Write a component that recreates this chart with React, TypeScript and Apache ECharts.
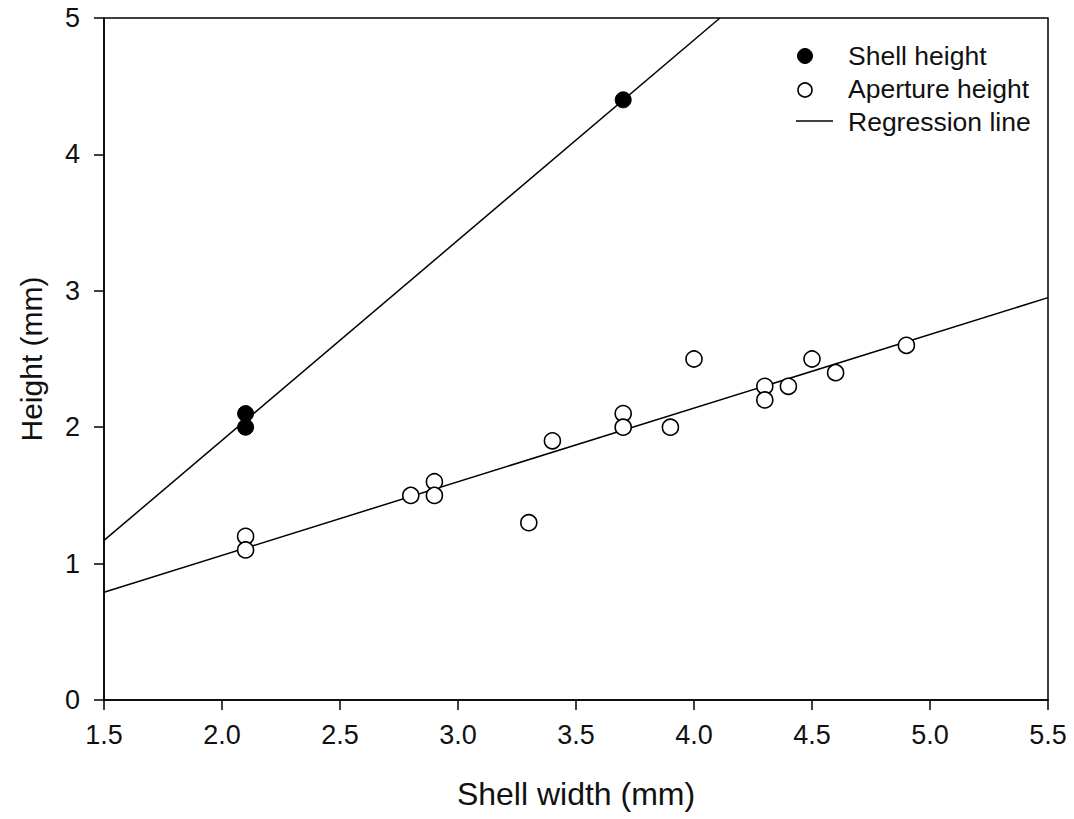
import React, { useEffect, useRef } from "react";
import * as echarts from "echarts";

const shellHeight: [number, number][] = [
  [2.1, 2.0],
  [2.1, 2.1],
  [3.7, 4.4],
];

const apertureHeight: [number, number][] = [
  [2.1, 1.2],
  [2.1, 1.1],
  [2.8, 1.5],
  [2.9, 1.6],
  [2.9, 1.5],
  [3.3, 1.3],
  [3.4, 1.9],
  [3.7, 2.1],
  [3.7, 2.0],
  [3.9, 2.0],
  [4.0, 2.5],
  [4.3, 2.3],
  [4.3, 2.2],
  [4.4, 2.3],
  [4.5, 2.5],
  [4.6, 2.4],
  [4.9, 2.6],
];

const shellRegression: [number, number][] = [
  [1.5, 1.17],
  [4.11, 5.0],
];

const apertureRegression: [number, number][] = [
  [1.5, 0.79],
  [5.5, 2.95],
];

const legendLabels = ["Shell height", "Aperture height", "Regression line"];
const xTitle = "Shell width (mm)";
const yTitle = "Height (mm)";

const FONT = "'Liberation Sans', Arial, sans-serif";

export default function App() {
  const ref = useRef<HTMLDivElement>(null);

  useEffect(() => {
    if (!ref.current) return;
    const chart = echarts.init(ref.current, undefined, { renderer: "svg" });
    chart.setOption({
      animation: false,
      backgroundColor: "#ffffff",
      grid: {
        left: 104,
        right: 26,
        top: 18,
        bottom: 119,
        show: true,
        borderColor: "#000",
        borderWidth: 1.5,
        backgroundColor: "transparent",
      },
      xAxis: {
        type: "value",
        min: 1.5,
        max: 5.5,
        interval: 0.5,
        name: xTitle,
        nameLocation: "middle",
        nameGap: 78,
        nameTextStyle: { fontFamily: FONT, fontSize: 32, color: "#111" },
        axisLine: { show: true, lineStyle: { color: "#000", width: 1.5 } },
        axisTick: { show: true, inside: false, length: 10, lineStyle: { color: "#000", width: 1.5 } },
        axisLabel: {
          margin: 21,
          fontFamily: FONT,
          fontSize: 27,
          color: "#111",
          formatter: (v: number) => v.toFixed(1),
        },
        splitLine: { show: false },
      },
      yAxis: {
        type: "value",
        min: 0,
        max: 5,
        interval: 1,
        name: yTitle,
        nameLocation: "middle",
        nameGap: 58,
        nameTextStyle: { fontFamily: FONT, fontSize: 30, color: "#111" },
        axisLine: { show: true, lineStyle: { color: "#000", width: 1.5 } },
        axisTick: { show: true, inside: false, length: 10, lineStyle: { color: "#000", width: 1.5 } },
        axisLabel: { margin: 24, fontFamily: FONT, fontSize: 27, color: "#111" },
        splitLine: { show: false },
      },
      series: [
        {
          type: "line",
          data: shellRegression,
          symbol: "none",
          lineStyle: { color: "#000", width: 1.5 },
          z: 2,
        },
        {
          type: "line",
          data: apertureRegression,
          symbol: "none",
          lineStyle: { color: "#000", width: 1.5 },
          z: 2,
        },
        {
          type: "scatter",
          data: shellHeight,
          symbol: "circle",
          symbolSize: 16,
          itemStyle: { color: "#000", borderColor: "#000", borderWidth: 1, opacity: 1 },
          z: 5,
        },
        {
          type: "scatter",
          data: apertureHeight,
          symbol: "circle",
          symbolSize: 16,
          itemStyle: { color: "#fff", borderColor: "#000", borderWidth: 1.6, opacity: 1 },
          z: 5,
        },
      ],
      graphic: [
        {
          type: "circle",
          shape: { cx: 805, cy: 56, r: 7.5 },
          style: { fill: "#000", stroke: "#000" },
          z: 10,
        },
        {
          type: "circle",
          shape: { cx: 805, cy: 90, r: 7 },
          style: { fill: "#fff", stroke: "#000", lineWidth: 1.6 },
          z: 10,
        },
        {
          type: "line",
          shape: { x1: 796, y1: 121, x2: 833, y2: 121 },
          style: { stroke: "#000", lineWidth: 1.5 },
          z: 10,
        },
        ...legendLabels.map((t, i) => ({
          type: "text",
          x: 848,
          y: [56, 89, 122][i],
          z: 10,
          style: {
            text: t,
            fontFamily: FONT,
            fontSize: 26.5,
            fill: "#111",
            textAlign: "left",
            textVerticalAlign: "middle",
          },
        })),
      ],
    });
    return () => chart.dispose();
  }, []);

  return (
    <div
      ref={ref}
      style={{ position: "fixed", left: 0, top: 0, width: 1074, height: 819, background: "#fff" }}
    />
  );
}
